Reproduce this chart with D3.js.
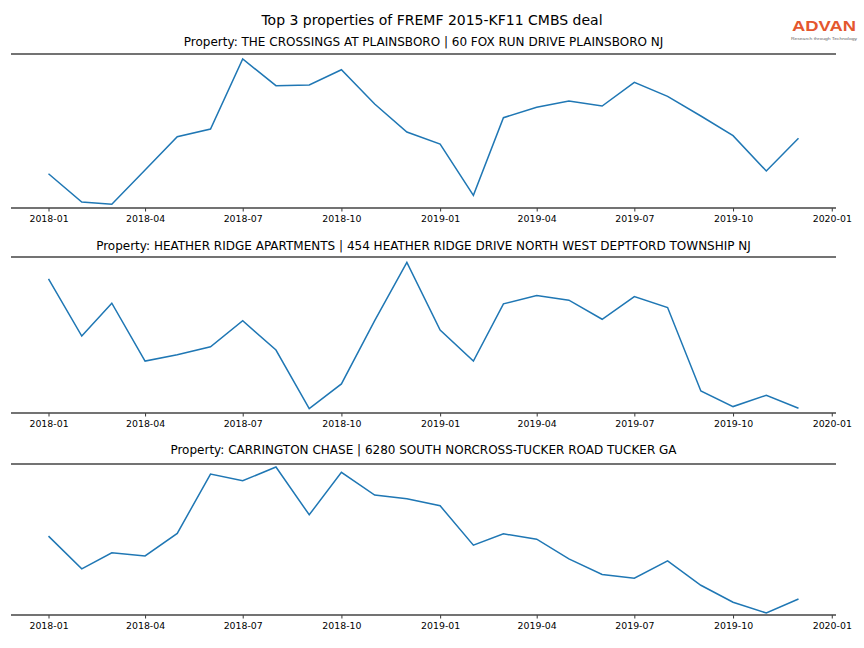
<!DOCTYPE html>
<html><head><meta charset="utf-8">
<script src="https://cdn.jsdelivr.net/npm/d3@7/dist/d3.min.js"></script>
<style>body{margin:0;background:#fff}svg{display:block;font-family:"DejaVu Sans",sans-serif}</style>
</head><body><svg id="chart" width="864" height="648"></svg>
<script>
const months = ["2018-01","2018-02","2018-03","2018-04","2018-05","2018-06","2018-07","2018-08","2018-09","2018-10","2018-11","2018-12",
"2019-01","2019-02","2019-03","2019-04","2019-05","2019-06","2019-07","2019-08","2019-09","2019-10","2019-11","2019-12"];
const tickLabels = ["2018-01","2018-04","2018-07","2018-10","2019-01","2019-04","2019-07","2019-10","2020-01"];
const chartTitle = "Top 3 properties of FREMF 2015-KF11 CMBS deal";
const propertyTitles = [
 "Property: THE CROSSINGS AT PLAINSBORO | 60 FOX RUN DRIVE PLAINSBORO NJ",
 "Property: HEATHER RIDGE APARTMENTS | 454 HEATHER RIDGE DRIVE NORTH WEST DEPTFORD TOWNSHIP NJ",
 "Property: CARRINGTON CHASE | 6280 SOUTH NORCROSS-TUCKER ROAD TUCKER GA"
];
const crossingsValues = [34.3,6,3.7,38,71.3,79,149,122.3,123,138.3,104,76,64,12.7,90.3,100.7,107,102,125.7,111.7,92,72.3,37,69.7];
const heatherValues = [133.7,76.7,109.4,51.7,58,66,92,62.7,4.4,29,92,150,82.7,51.7,108.7,117,112.4,93.4,116,105,22,6.4,17.7,4.7];
const carringtonValues = [78.7,46,62,59,81.4,140.7,134,147.7,100,142.4,119.7,116,109,69.7,81,75.7,56,40.4,36.7,54,29.7,12.7,2,16];
const seriesList = [crossingsValues, heatherValues, carringtonValues];
const yMax = [154, 155.4, 150.7];

const parse = d3.timeParse("%Y-%m");
const dates = months.map(parse);
const svg = d3.select("#chart");

const panels = [
 {top:54, bottom:208, titleY:46},
 {top:257, bottom:413, titleY:250},
 {top:464, bottom:615, titleY:454}
];
const left = 11, right = 836;
const pad = (dates[dates.length-1] - dates[0]) * 0.05;
const x = d3.scaleTime()
  .domain([new Date(+dates[0] - pad), new Date(+dates[dates.length-1] + pad)])
  .range([left, right]);

svg.append("text").attr("x", 432).attr("y", 25).attr("text-anchor","middle")
  .attr("font-size", 14).attr("fill","#000").text(chartTitle);

// logo
svg.append("text").attr("x", 792).attr("y", 31).attr("textLength", 64).attr("lengthAdjust","spacingAndGlyphs")
  .attr("font-family","'Liberation Sans',Arial,sans-serif").attr("font-size", 14.5).attr("font-weight","bold")
  .attr("fill","#e4572e").text("ADVAN");
svg.append("text").attr("x", 791).attr("y", 39.5).attr("textLength", 66).attr("lengthAdjust","spacingAndGlyphs")
  .attr("font-family","'Liberation Sans',Arial,sans-serif")
  .attr("font-size", 4).attr("fill","#666").text("Research through Technology");

panels.forEach((p, i) => {
  const vals = seriesList[i];
  const y = d3.scaleLinear().domain([0, yMax[i]]).range([p.bottom, p.top]);
  const g = svg.append("g");
  g.append("text").attr("x", 423.5).attr("y", p.titleY).attr("text-anchor","middle")
    .attr("font-size", 12).attr("fill","#000").text(propertyTitles[i]);

  const axis = d3.axisBottom(x)
    .tickValues(tickLabels.map(parse))
    .tickFormat(d3.timeFormat("%Y-%m"))
    .tickSize(3.5).tickPadding(3.5);
  const ag = g.append("g").attr("transform", `translate(0,${p.bottom})`).call(axis);
  ag.select(".domain").remove();
  ag.selectAll(".tick line").attr("stroke","#000").attr("stroke-width",0.8);
  ag.selectAll(".tick text").attr("font-size", 9.4).attr("font-family","'DejaVu Sans',sans-serif").attr("fill","#000");

  g.append("line").attr("x1",left).attr("x2",right).attr("y1",p.top).attr("y2",p.top)
    .attr("stroke","#444").attr("stroke-width",1.6);
  g.append("line").attr("x1",left).attr("x2",right).attr("y1",p.bottom).attr("y2",p.bottom)
    .attr("stroke","#444").attr("stroke-width",1.6);

  const line = d3.line().x((d,j)=>x(dates[j])).y(d=>y(d));
  g.append("path").datum(vals).attr("d", line).attr("fill","none")
    .attr("stroke","#1f77b4").attr("stroke-width",1.5);
});
</script></body></html>
